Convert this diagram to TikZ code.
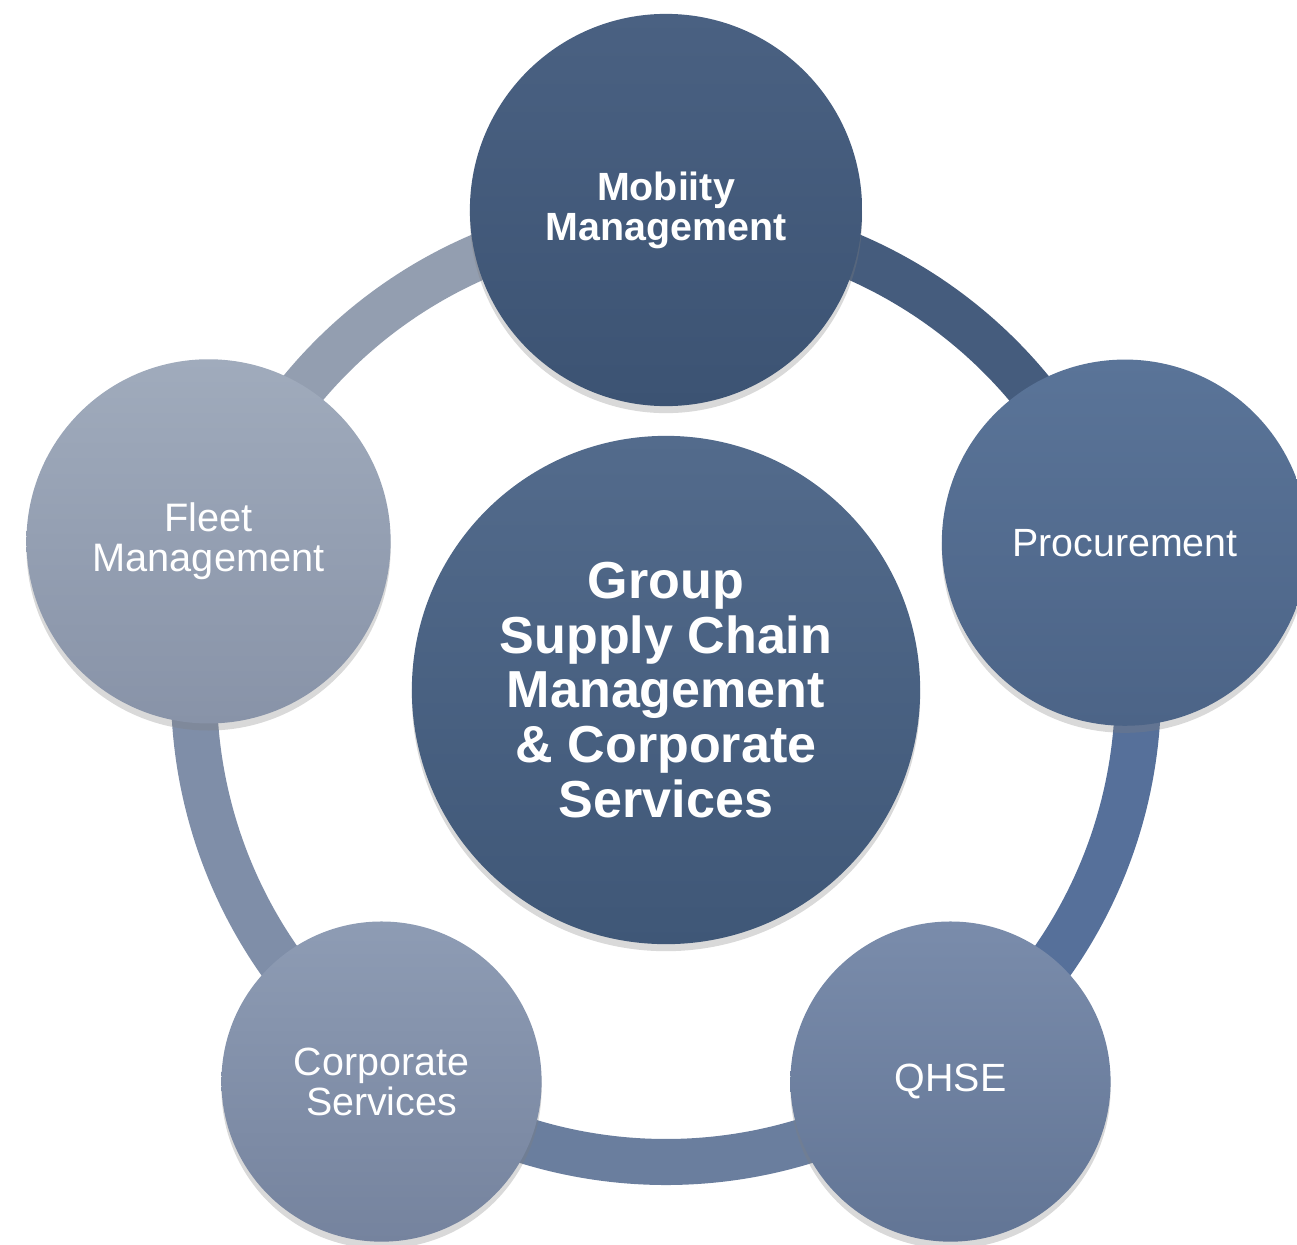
\documentclass[tikz,border=0pt]{standalone}
\usepackage{fontspec}
\setmainfont{Liberation Sans}
\usetikzlibrary{calc,shadows}
\definecolor{CentroArriba}{HTML}{536B8C}
\definecolor{CentroAbajo}{HTML}{3F5777}
\definecolor{MobilityArriba}{HTML}{4A6182}
\definecolor{MobilityAbajo}{HTML}{3C5373}
\definecolor{ProcArriba}{HTML}{5A7498}
\definecolor{ProcAbajo}{HTML}{4C6487}
\definecolor{QhseArriba}{HTML}{7A8CAB}
\definecolor{QhseAbajo}{HTML}{627595}
\definecolor{CorpArriba}{HTML}{8E9CB4}
\definecolor{CorpAbajo}{HTML}{75839E}
\definecolor{FleetArriba}{HTML}{A0ABBC}
\definecolor{FleetAbajo}{HTML}{8893A8}
\definecolor{AnilloUno}{HTML}{455C7D}
\definecolor{AnilloDos}{HTML}{56709A}
\definecolor{AnilloTres}{HTML}{6A7E9E}
\definecolor{AnilloCuatro}{HTML}{7F8EA8}
\definecolor{AnilloCinco}{HTML}{939EB0}

\tikzset{
    circulo/.style={circle, inner sep=0pt, align=center, text=white,
        drop shadow={shadow xshift=0pt, shadow yshift=-2pt, opacity=0.3}},
    anillo/.style={line width=0.46cm},
}

\begin{document}
\begin{tikzpicture}[x=0.01cm, y=0.01cm]

    \useasboundingbox (0, 0) rectangle (1297, 1244);
    \clip (0, 0) rectangle (1297, 1244);

    \coordinate (O) at (666, 554);

    % Centros de los circulos exteriores
    \coordinate (M) at ($(O) + (90:480)$);
    \coordinate (P) at ($(O) + (17.8:482)$);
    \coordinate (Q) at ($(O) + (-54:484)$);
    \coordinate (C) at ($(O) + (-126:484)$);
    \coordinate (F) at ($(O) + (162:481)$);

    % Anillo por tramos
    \draw[anillo, AnilloUno] ($(O) + (90:472)$) arc (90:18:472);
    \draw[anillo, AnilloDos] ($(O) + (18:472)$) arc (18:-54:472);
    \draw[anillo, AnilloTres] ($(O) + (-54:472)$) arc (-54:-126:472);
    \draw[anillo, AnilloCuatro] ($(O) + (-126:472)$) arc (-126:-198:472);
    \draw[anillo, AnilloCinco] ($(O) + (162:472)$) arc (162:90:472);

    \node[circulo, minimum size=5.08cm, top color=CentroArriba, bottom color=CentroAbajo,
        font=\fontsize{14.8}{15.6}\selectfont\bfseries] (centro) at (O)
        {Group\\Supply Chain\\Management\\\& Corporate\\Services};

    \node[circulo, minimum size=3.92cm, top color=MobilityArriba, bottom color=MobilityAbajo,
        font=\fontsize{11.2}{11.4}\selectfont\bfseries] (mobility) at (M)
        {Mobiity\\Management};
    \node[circulo, minimum size=3.66cm, top color=ProcArriba, bottom color=ProcAbajo,
        font=\fontsize{11.2}{11.4}\selectfont] (procurement) at (P) {Procurement};
    \node[circulo, minimum size=3.2cm, top color=QhseArriba, bottom color=QhseAbajo,
        font=\fontsize{11.2}{11.4}\selectfont] (qhse) at (Q) {QHSE};
    \node[circulo, minimum size=3.2cm, top color=CorpArriba, bottom color=CorpAbajo,
        font=\fontsize{11.2}{11.4}\selectfont] (corporate) at (C) {Corporate\\Services};
    \node[circulo, minimum size=3.64cm, top color=FleetArriba, bottom color=FleetAbajo,
        font=\fontsize{11.3}{11.4}\selectfont] (fleet) at (F) {Fleet\\Management};

\end{tikzpicture}
\end{document}
